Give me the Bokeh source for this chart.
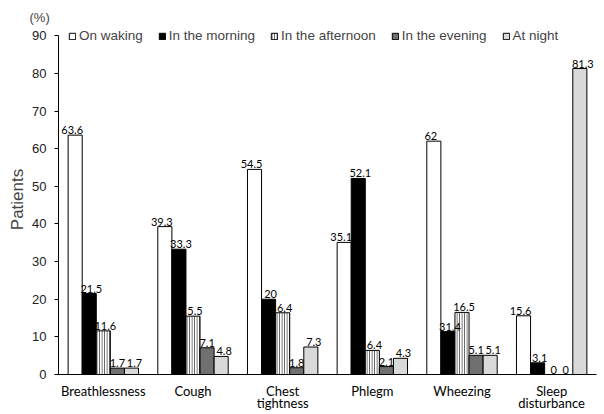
from bokeh.plotting import figure
from bokeh.models import ColumnDataSource, Legend, LegendItem, FactorRange, FixedTicker
from bokeh.transform import dodge
from bokeh.core.properties import value
from bokeh.embed import file_html
from bokeh.resources import INLINE

categories = ["Breathlessness", "Cough", "Chest\ntightness", "Phlegm", "Wheezing", "Sleep\ndisturbance"]
series_names = ["On waking", "In the morning", "In the afternoon", "In the evening", "At night"]

# bar heights as drawn
on_waking = [63.6, 39.3, 54.5, 35.1, 62.0, 15.6]
in_morning = [21.5, 33.3, 20.0, 52.1, 11.4, 3.1]
in_afternoon = [11.6, 15.5, 16.4, 6.4, 16.5, 0.0]
in_evening = [1.7, 7.1, 1.8, 2.1, 5.1, 0.0]
at_night = [1.7, 4.8, 7.3, 4.3, 5.1, 81.3]

# printed data labels
lbl_waking = ["63.6", "39.3", "54.5", "35.1", "62", "15.6"]
lbl_morning = ["21.5", "33.3", "20", "52.1", "31.4", "3.1"]
lbl_afternoon = ["11.6", "5.5", "6.4", "6.4", "16.5", "0"]
lbl_evening = ["1.7", "7.1", "1.8", "2.1", "5.1", "0"]
lbl_night = ["1.7", "4.8", "7.3", "4.3", "5.1", "81.3"]

y_ticks = [0, 10, 20, 30, 40, 50, 60, 70, 80, 90]

src = ColumnDataSource(dict(
    cat=categories,
    s0=on_waking, s1=in_morning, s2=in_afternoon, s3=in_evening, s4=at_night,
    l0=lbl_waking, l1=lbl_morning, l2=lbl_afternoon, l3=lbl_evening, l4=lbl_night,
))

p = figure(x_range=FactorRange(*categories), y_range=(0, 93),
           width=604, height=414, output_backend="svg", toolbar_location=None,
           min_border_left=58, min_border_top=24, min_border_right=8, min_border_bottom=30)
p.outline_line_color = None
p.grid.grid_line_color = None
p.background_fill_color = "white"

bw = 0.157
offsets = [-2 * bw, -bw, 0, bw, 2 * bw]
label_shift = [-3, 2, 2, 0, 3]
fills = ["white", "black", "white", "#707070", "#d9d9d9"]
renderers = []
for i in range(5):
    kw = dict(x=dodge("cat", offsets[i], range=p.x_range), top="s%d" % i, width=bw,
              source=src, fill_color=fills[i], line_color="black", line_width=1)
    if i == 2:
        kw.update(hatch_pattern="vertical_line", hatch_color="#444444", hatch_scale=2.5, hatch_weight=1)
    renderers.append(p.vbar(**kw))

for i in range(5):
    p.text(x=dodge("cat", offsets[i], range=p.x_range), y="s%d" % i, text="l%d" % i, source=src,
           text_align="center", text_baseline="bottom", y_offset=-1, x_offset=label_shift[i],
           text_font=value("Lato"), text_font_size="11px", text_color="black")

legend = Legend(items=[LegendItem(label=series_names[i], renderers=[renderers[i]]) for i in range(5)],
                orientation="horizontal", location=(10, 331),
                glyph_width=8, glyph_height=8, label_standoff=3, spacing=15, padding=0, margin=0,
                border_line_color=None, background_fill_alpha=0,
                label_text_font="Liberation Sans", label_text_font_size="13.5px",
                label_height=14)
p.add_layout(legend, "center")

p.title.text = "(%)"
p.title.align = "left"
p.title.offset = -29
p.title.text_font = "Liberation Sans"
p.title.text_font_size = "13px"
p.title.text_font_style = "normal"
p.title.standoff = 0

ya = p.yaxis[0]
ya.ticker = FixedTicker(ticks=y_ticks)
ya.bounds = (0, 90)
ya.minor_tick_line_color = None
ya.major_tick_out = 4
ya.major_tick_in = 0
ya.major_label_standoff = 8
ya.major_label_text_font = "Liberation Sans"
ya.major_label_text_font_size = "13px"
ya.major_label_text_color = "#222222"
ya.axis_label = "Patients"
ya.axis_label_text_font = "Liberation Sans"
ya.axis_label_text_font_size = "17px"
ya.axis_label_text_font_style = "normal"
ya.axis_label_standoff = 2
ya.axis_line_color = "black"

xa = p.xaxis[0]
xa.major_tick_line_color = None
xa.minor_tick_line_color = None
xa.major_label_standoff = 2
xa.major_label_text_font = "Lato"
xa.major_label_text_font_size = "13px"
xa.major_label_text_line_height = 0.8
xa.major_label_text_color = "black"
xa.axis_line_color = "black"

open("out.html", "w").write(file_html(p, INLINE))
